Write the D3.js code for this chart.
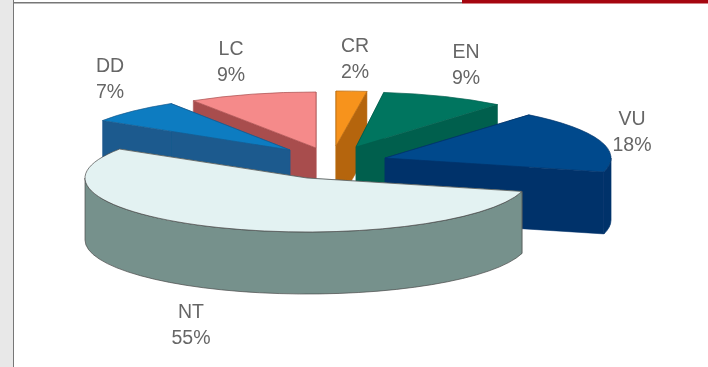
<!DOCTYPE html>
<html><head><meta charset="utf-8">
<script src="https://cdn.jsdelivr.net/npm/d3@7"></script>
<style>html,body{margin:0;padding:0;background:#fff;overflow:hidden}svg{display:block}</style>
</head><body><div id="chart"></div>
<script>
const categories = ["CR","EN","VU","NT","DD","LC"];
const values = [2,9,18,55,7,9];
const tickLabels = ["2%","9%","18%","55%","7%","9%"];

const topColors = {CR:"#f7931e",EN:"#00755f",VU:"#004a8c",NT:"#e3f2f2",DD:"#0a7cc1",LC:"#f58a8a"};
const sideColors = {CR:"#b5650a",EN:"#005f4d",VU:"#00336b",NT:"#76918c",DD:"#1b5a8e",LC:"#a84d4d"};
// slice apex on the page (exploded pie layout), slice radii and label anchor
const layout = {
  CR:{ax:336,ay:146,rx:247,ry:55,lx:355,ly:52},
  EN:{ax:356,ay:147,rx:222,ry:55,lx:466,ly:58},
  VU:{ax:385,ay:158,rx:226,ry:56,lx:632,ly:125},
  NT:{ax:307,ay:178,rx:222,ry:54,lx:191,ly:318},
  DD:{ax:290,ay:150,rx:222,ry:55,lx:110,ly:72},
  LC:{ax:316,ay:148,rx:229,ry:56,lx:231,ly:55}
};
const depth = 62;
const drawOrder = ["LC","DD","CR","EN","VU","NT"];

const svg = d3.select("#chart").append("svg").attr("width",708).attr("height",367);
svg.append("rect").attr("width",708).attr("height",367).attr("fill","#fff");
svg.append("rect").attr("width",13).attr("height",367).attr("fill","#e8e8e8");
svg.append("rect").attr("x",13).attr("width",1).attr("height",367).attr("fill","#777");
svg.append("rect").attr("x",13).attr("y",2).attr("width",449).attr("height",1.5).attr("fill","#777");
svg.append("rect").attr("x",462).attr("width",246).attr("height",3.5).attr("fill","#a5060f");

const defs = svg.append("defs");
defs.append("filter").attr("id","soft").append("feGaussianBlur").attr("stdDeviation",0.7);
defs.append("filter").attr("id","softText").append("feGaussianBlur").attr("stdDeviation",0.45);

const pie = d3.pie().sort(null).value((d)=>values[categories.indexOf(d)]).startAngle(0).endAngle(2*Math.PI);
const arcs = new Map(pie(categories).map(d=>[d.data,d]));

const g = svg.append("g").attr("filter","url(#soft)");
const pt = (c,a,dz=0)=>{
  const l = layout[c];
  return [l.ax + l.rx*Math.sin(a), l.ay - l.ry*Math.cos(a) + dz];
};
const stroke = "#4a4a4a";
function poly(pts){ return "M"+pts.map(p=>p.join(",")).join("L")+"Z"; }

drawOrder.forEach(c=>{
  const d = arcs.get(c), l = layout[c], a0 = d.startAngle, a1 = d.endAngle;
  const apex = [l.ax,l.ay], apexB = [l.ax,l.ay+depth];
  [a0,a1].forEach(a=>{
    g.append("path").attr("d",poly([apex,pt(c,a),pt(c,a,depth),apexB]))
      .attr("fill",sideColors[c]).attr("stroke",sideColors[c]).attr("stroke-width",0.5);
  });
  const w0 = Math.max(a0,Math.PI/2), w1 = Math.min(a1,3*Math.PI/2);
  if (w1 > w0){
    const p0 = pt(c,w0), p1 = pt(c,w1), q0 = pt(c,w0,depth), q1 = pt(c,w1,depth);
    g.append("path")
      .attr("d",`M${p0}A${l.rx},${l.ry} 0 0 1 ${p1}L${q1}A${l.rx},${l.ry} 0 0 0 ${q0}Z`)
      .attr("fill",sideColors[c]).attr("stroke",c==="NT"?stroke:sideColors[c]).attr("stroke-width",0.7);
  }
  const p0 = pt(c,a0), p1 = pt(c,a1);
  g.append("path")
    .attr("d",`M${apex}L${p0}A${l.rx},${l.ry} 0 ${a1-a0>Math.PI?1:0} 1 ${p1}Z`)
    .attr("fill",topColors[c]).attr("stroke",c==="NT"?stroke:sideColors[c]).attr("stroke-width",0.7);
});

const labels = svg.append("g").attr("font-family","'Liberation Sans',Arial,sans-serif").attr("filter","url(#softText)")
  .attr("font-size",19.5).attr("fill","#666").attr("text-anchor","middle");
categories.forEach((c,i)=>{
  const t = labels.append("text").attr("x",layout[c].lx).attr("y",layout[c].ly);
  t.append("tspan").attr("x",layout[c].lx).text(c);
  t.append("tspan").attr("x",layout[c].lx).attr("dy",26).text(tickLabels[i]);
});
</script></body></html>
